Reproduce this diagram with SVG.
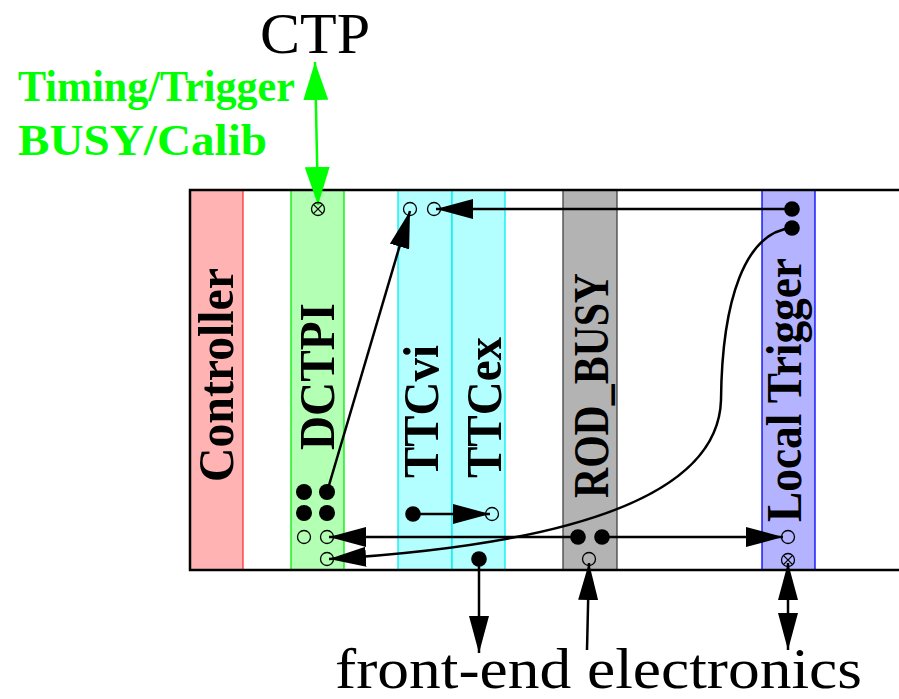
<svg xmlns="http://www.w3.org/2000/svg" width="899" height="699" viewBox="0 0 899 699">
<defs>
<style>
.lbl{font-family:"Liberation Serif","DejaVu Serif",serif;font-weight:bold;font-size:50px;fill:#000}
.grn{font-family:"Liberation Serif","DejaVu Serif",serif;font-weight:bold;font-size:45px;fill:#00ff00}
.big{font-family:"Liberation Serif","DejaVu Serif",serif;font-size:56px;fill:#000}
.col{stroke-width:1.3}
.ln{fill:none;stroke:#000;stroke-width:2.5}
.oc{fill:none;stroke:#000;stroke-width:1.3}
.fd{fill:#000}
</style>
<marker id="ah" viewBox="0 0 37 20" markerWidth="37" markerHeight="20" refX="37" refY="10" orient="auto-start-reverse" markerUnits="userSpaceOnUse">
<path d="M0,0 L37,10 L0,20 Z" fill="#000"/>
</marker>
<marker id="ahg" viewBox="0 0 38 25" markerWidth="38" markerHeight="25" refX="38" refY="12.5" orient="auto-start-reverse" markerUnits="userSpaceOnUse">
<path d="M0,0 L38,12.5 L0,25 Z" fill="#00ff00"/>
</marker>
</defs>
<rect width="899" height="699" fill="#fff"/>

<g id="controller">
<rect class="col" x="190" y="190" width="53" height="380" fill="#ffb3b3" stroke="#ff3333"/>
<text class="lbl" transform="translate(233,482) rotate(-90)" textLength="214" lengthAdjust="spacingAndGlyphs">Controller</text>
</g>
<g id="dctpi">
<rect class="col" x="291" y="190" width="53" height="380" fill="#b3ffb3" stroke="#00ee00"/>
<text class="lbl" transform="translate(334,450) rotate(-90)" textLength="147" lengthAdjust="spacingAndGlyphs">DCTPI</text>
</g>
<g id="ttcvi">
<rect class="col" x="398" y="190" width="54" height="380" fill="#b3ffff" stroke="#00eeee"/>
<text class="lbl" transform="translate(438,478) rotate(-90)" textLength="133" lengthAdjust="spacingAndGlyphs">TTCvi</text>
</g>
<g id="ttcex">
<rect class="col" x="452" y="190" width="53" height="380" fill="#b3ffff" stroke="#00eeee"/>
<text class="lbl" transform="translate(501,478) rotate(-90)" textLength="141" lengthAdjust="spacingAndGlyphs">TTCex</text>
</g>
<g id="rod_busy">
<rect class="col" x="563" y="190" width="54" height="380" fill="#b3b3b3" stroke="#444"/>
<text class="lbl" transform="translate(608,498) rotate(-90)" textLength="225" lengthAdjust="spacingAndGlyphs">ROD_BUSY</text>
</g>
<g id="local_trigger">
<rect class="col" x="762" y="190" width="53" height="380" fill="#b3b3ff" stroke="#0000ff"/>
<text class="lbl" transform="translate(801,522) rotate(-90)" textLength="264" lengthAdjust="spacingAndGlyphs">Local Trigger</text>
</g>

<g id="frame">
<path d="M899,190 H190 V570 H899" fill="none" stroke="#000" stroke-width="2.5"/>
</g>

<g id="ctp">
<text class="big" x="260" y="53" textLength="110" lengthAdjust="spacingAndGlyphs">CTP</text>
</g>
<g id="ctp_label">
<text class="grn" x="18" y="101" textLength="277" lengthAdjust="spacingAndGlyphs">Timing/Trigger</text>
<text class="grn" x="18" y="155" textLength="249" lengthAdjust="spacingAndGlyphs">BUSY/Calib</text>
</g>
<g id="frontend">
<text class="big" x="335" y="688" font-size="53" textLength="527" lengthAdjust="spacingAndGlyphs">front-end electronics</text>
</g>

<g id="connectors">
<path d="M315,62 L318,205" fill="none" stroke="#00ff00" stroke-width="2.5" marker-start="url(#ahg)" marker-end="url(#ahg)"/>
<path class="ln" d="M327,492 L410,211" marker-end="url(#ah)"/>
<path class="ln" d="M792,209 L436,209" marker-end="url(#ah)"/>
<path class="ln" d="M792,228 C745,232 722,300 721,400 C718,500 560,545 329,559" marker-end="url(#ah)"/>
<path class="ln" d="M578,537 L329,537" marker-end="url(#ah)"/>
<path class="ln" d="M602,537 L783,537" marker-end="url(#ah)"/>
<path class="ln" d="M413,514 L490,514" marker-end="url(#ah)"/>
<path class="ln" d="M479,559 L479,653" marker-end="url(#ah)"/>
<path class="ln" d="M587,650 L589,563" marker-end="url(#ah)"/>
<path class="ln" d="M788,563 L788,650" marker-start="url(#ah)" marker-end="url(#ah)"/>
</g>

<g id="ports">
<circle class="oc" cx="318" cy="209" r="6.5"/>
<path class="oc" d="M313.4,204.4 L322.6,213.6 M322.6,204.4 L313.4,213.6"/>
<circle class="oc" cx="410" cy="209" r="6.5"/>
<circle class="oc" cx="434" cy="209" r="6.5"/>
<circle class="fd" cx="792" cy="209" r="7.8"/>
<circle class="fd" cx="792" cy="228" r="7.8"/>
<circle class="fd" cx="304" cy="492" r="8"/>
<circle class="fd" cx="327" cy="492" r="8"/>
<circle class="fd" cx="304" cy="513" r="8"/>
<circle class="fd" cx="327" cy="513" r="8"/>
<circle class="oc" cx="304" cy="537" r="6.5"/>
<circle class="oc" cx="327" cy="537" r="6.5"/>
<circle class="oc" cx="327" cy="559" r="6.5"/>
<circle class="fd" cx="413" cy="514" r="7.8"/>
<circle class="oc" cx="492" cy="514" r="6.5"/>
<circle class="fd" cx="479" cy="559" r="7.8"/>
<circle class="fd" cx="578" cy="537" r="7.8"/>
<circle class="fd" cx="602" cy="537" r="7.8"/>
<circle class="oc" cx="589" cy="559" r="6.5"/>
<circle class="oc" cx="788" cy="537" r="6.5"/>
<circle class="oc" cx="788" cy="560" r="6.5"/>
<path class="oc" d="M783.4,555.4 L792.6,564.6 M792.6,555.4 L783.4,564.6"/>
</g>
</svg>
